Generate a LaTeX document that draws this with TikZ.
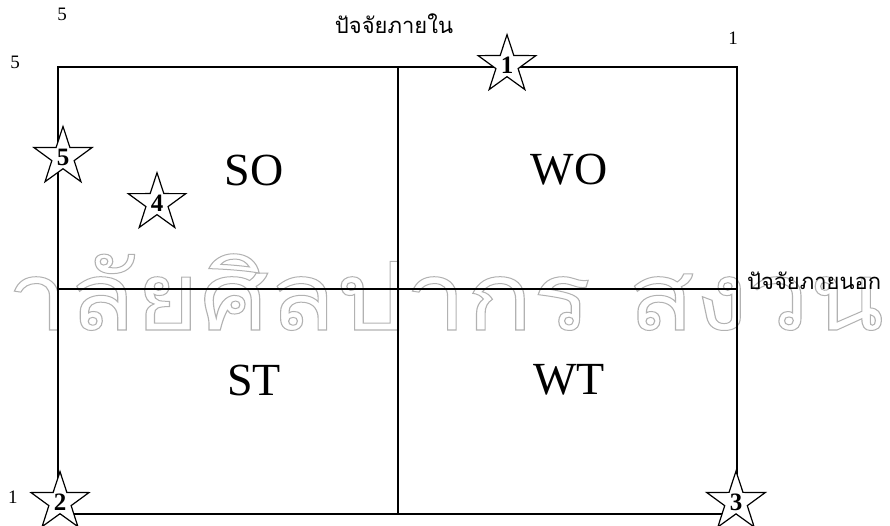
\documentclass[tikz,border=0pt]{standalone}
\usepackage{fontspec}
\setmainfont{Liberation Serif}
\newfontfamily\thaifont[Script=Thai]{Loma}
\usetikzlibrary{shapes.geometric}
\tikzset{
  gridline/.style={line width=1.5pt, line cap=rect},
  starnode/.style={star, star points=5, star point ratio=2.6, minimum size=60pt,
    inner sep=0pt, draw, fill=white, line width=1.2pt,
    font=\bfseries\fontsize{25}{25}\selectfont},
  quad/.style={font=\fontsize{46}{46}\selectfont},
  corner/.style={font=\fontsize{19}{19}\selectfont},
  thailabel/.style={font=\thaifont\fontsize{22}{22}\selectfont},
}
\begin{document}
\begin{tikzpicture}[x=1pt,y=-1pt]
\useasboundingbox (0,0) rectangle (890,526);
% watermark
\begin{scope}
\clip (0,0) rectangle (890,526);
\node[anchor=base west, inner sep=0pt, text=black!30,
  font=\thaifont\fontsize{95}{95}\selectfont, xscale=1.15] (wm) at (-396,330)
  {\special{pdf:literal direct 1 Tr 1 w}มหาวิทยาลัยศิลปากร สงวนลิขสิทธิ์\special{pdf:literal direct 0 Tr}};
\end{scope}
% grid
\coordinate (TL) at (58,67);
\coordinate (TR) at (737,67);
\coordinate (BL) at (58,514);
\coordinate (BR) at (737,514);
\coordinate (TM) at (398,67);
\coordinate (BM) at (398,514);
\coordinate (ML) at (58,289);
\coordinate (MR) at (737,289);
\draw[gridline] (TL) rectangle (BR);
\draw[gridline] (TM) -- (BM);
\draw[gridline] (ML) -- (MR);
% quadrant labels
\node[quad] (so) at (254,170) {SO};
\node[quad] (wo) at (569,170) {WO};
\node[quad] (st) at (254,380) {ST};
\node[quad] (wt) at (569,380) {WT};
% axis labels
\node[thailabel] (inner) at (394,24) {ปัจจัยภายใน};
\node[thailabel, anchor=west, inner sep=0pt] (outer) at (747,281) {ปัจจัยภายนอก};
\node[corner] (c5a) at (62,14) {5};
\node[corner] (c5b) at (15,62) {5};
\node[corner] (c1a) at (733,38) {1};
\node[corner] (c1b) at (13,497) {1};
% stars
\node[starnode] (s1) at (507,65) {1};
\node[starnode] (s5) at (63,157) {5};
\node[starnode] (s4) at (157,203) {4};
\node[starnode] (s2) at (60,502) {2};
\node[starnode] (s3) at (736,502) {3};
\end{tikzpicture}
\end{document}
